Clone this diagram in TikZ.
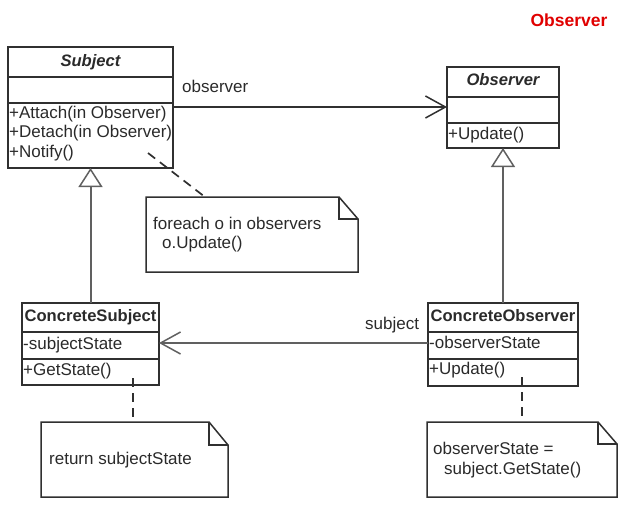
\documentclass[tikz,border=0pt]{standalone}
\usepackage{fontspec}
\setmainfont{Liberation Sans}
\usetikzlibrary{arrows.meta}
\definecolor{linec}{HTML}{303030}
\definecolor{genc}{HTML}{606060}
\definecolor{textc}{HTML}{2A2A2A}
\definecolor{redc}{HTML}{E00000}
\begin{document}
\begin{tikzpicture}[x=1pt,y=-1pt,
  box/.style={draw=linec, line width=1.6pt, anchor=north west, inner sep=0pt, outer sep=0pt, rectangle},
  sep/.style={draw=linec, line width=1.6pt},
  txt/.style={anchor=west, inner sep=0pt, text=textc, text height=12.5pt, text depth=3.7pt, font=\fontsize{17}{20}\selectfont},
  ttl/.style={anchor=center, inner sep=0pt, text=textc, text height=12.5pt, text depth=3.7pt, font=\fontsize{16.6}{20}\selectfont\bfseries},
  gen/.style={draw=genc, line width=2pt, -{Triangle[open, length=19pt, width=24pt, line width=1.5pt, fill=white]}},
  assoc/.style={draw=linec, line width=1.6pt, -{Straight Barb[length=20pt, width=22pt, line width=1.5pt]}},
  assocg/.style={draw=genc, line width=2pt, -{Straight Barb[length=20pt, width=22pt, line width=1.5pt]}},
  notebox/.style={anchor=north west, inner sep=0pt, outer sep=0pt, rectangle},
  noteline/.style={draw=linec, line width=1.5pt, line join=miter},
  anchorline/.style={draw=linec, line width=1.7pt, dash pattern=on 9pt off 6pt}
]
\useasboundingbox (0,0) rectangle (630,520);

% title
\node[font=\fontsize{17.5}{20}\selectfont\bfseries, text=redc, inner sep=0pt] (title) at (569,20) {Observer};

% Subject
\node[box, minimum width=165pt, minimum height=121pt] (subj) at (8,47) {};
\draw[sep] (8,77) -- (173,77);
\draw[sep] (8,103) -- (173,103);
\node[ttl, font=\fontsize{16.6}{20}\selectfont\bfseries\itshape] (subjT) at (90.5,62) {Subject};
\node[txt] (subjM1) at (9,114) {+Attach(in Observer)};
\node[txt] (subjM2) at (9,133.5) {+Detach(in Observer)};
\node[txt] (subjM3) at (9,153) {+Notify()};

% Observer
\node[box, minimum width=112pt, minimum height=81pt] (obs) at (447,67) {};
\draw[sep] (447,97) -- (559,97);
\draw[sep] (447,123) -- (559,123);
\node[ttl, font=\fontsize{16.6}{20}\selectfont\bfseries\itshape] (obsT) at (503,81.5) {Observer};
\node[txt] (obsM1) at (448,135) {+Update()};

% ConcreteSubject
\node[box, minimum width=137pt, minimum height=82pt] (csubj) at (22,303) {};
\draw[sep] (22,332) -- (159,332);
\draw[sep] (22,359) -- (159,359);
\node[ttl] (csubjT) at (90.5,317.5) {ConcreteSubject};
\node[txt] (csubjA1) at (23,345) {-subjectState};
\node[txt] (csubjM1) at (23,371) {+GetState()};

% ConcreteObserver
\node[box, minimum width=150pt, minimum height=83pt] (cobs) at (428,303) {};
\draw[sep] (428,332) -- (578,332);
\draw[sep] (428,359) -- (578,359);
\node[ttl] (cobsT) at (503,317.5) {ConcreteObserver};
\node[txt] (cobsA1) at (429,344.5) {-observerState};
\node[txt] (cobsM1) at (429,370.5) {+Update()};

% Notes
\node[notebox, minimum width=212pt, minimum height=75pt] (note1) at (146,197) {};
\draw[noteline] (note1.north west) -- (339,197) -- (358,219) -- (note1.south east) -- (note1.south west) -- cycle;
\draw[noteline] (339,197) -- (339,219) -- (358,219);
\node[txt] (note1a) at (153,225) {foreach o in observers};
\node[txt] (note1b) at (162,244.5) {o.Update()};

\node[notebox, minimum width=187pt, minimum height=75pt] (note2) at (41,422) {};
\draw[noteline] (note2.north west) -- (209,422) -- (228,445) -- (note2.south east) -- (note2.south west) -- cycle;
\draw[noteline] (209,422) -- (209,445) -- (228,445);
\node[txt] (note2a) at (49,460) {return subjectState};

\node[notebox, minimum width=190pt, minimum height=75pt] (note3) at (427,422) {};
\draw[noteline] (note3.north west) -- (598,422) -- (617,444) -- (note3.south east) -- (note3.south west) -- cycle;
\draw[noteline] (598,422) -- (598,444) -- (617,444);
\node[txt] (note3a) at (433,450) {observerState =};
\node[txt] (note3b) at (444,470) {subject.GetState()};

% connectors
\node[txt] (lblObserver) at (182,88.5) {observer};
\draw[assoc] (subj.east |- 0,107) -- (obs.west |- 0,107);

\node[txt] (lblSubject) at (365,325.5) {subject};
\draw[assocg] (cobs.west |- 0,343) -- (csubj.east |- 0,343);

\draw[gen] (csubj.north) -- (subj.south);
\draw[gen] (cobs.north) -- (obs.south);

\coordinate (n1a) at (148,153);
\coordinate (n1b) at (205,197);
\draw[anchorline] (n1a) -- (n1b);
\coordinate (n2a) at (133,378);
\draw[anchorline] (n2a) -- (n2a |- note2.north);
\coordinate (n3a) at (522,377);
\draw[anchorline] (n3a) -- (n3a |- note3.north);
\end{tikzpicture}
\end{document}
